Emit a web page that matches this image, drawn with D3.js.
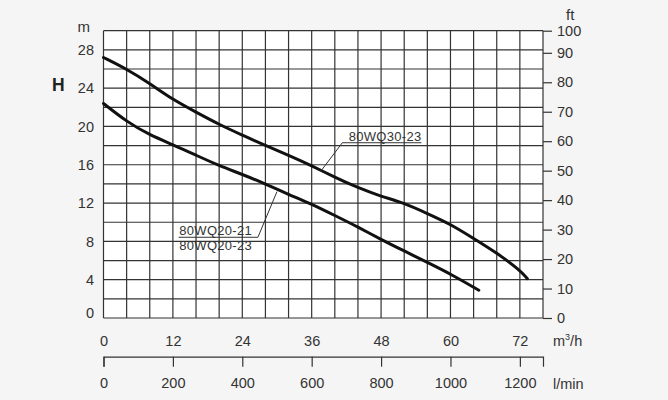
<!DOCTYPE html>
<html>
<head>
<meta charset="utf-8">
<script src="https://cdn.jsdelivr.net/npm/d3@7"></script>
<style>
  body { margin: 0; background: #f5f5f5; }
  svg { display: block; font-family: "Liberation Sans", Arial, sans-serif; }
</style>
</head>
<body>
<div id="chart"></div>
<script>
/* DATA */
// flow in m3/h, head in m
const flowUpper = [0, 4, 8, 12, 16, 20, 24, 28, 32, 36, 40, 44, 48, 52, 56, 60, 64, 68, 72, 73.3];
const headUpper = [27.2, 26.0, 24.5, 22.8, 21.5, 20.2, 19.1, 18.0, 17.0, 15.9, 14.7, 13.6, 12.7, 12.0, 10.9, 9.8, 8.3, 6.8, 5.0, 4.1];
const flowLower = [0, 4, 8, 12, 16, 20, 24, 28, 32, 36, 40, 44, 48, 52, 56, 60, 64.9];
const headLower = [22.4, 20.5, 19.1, 18.1, 17.0, 15.9, 15.0, 14.0, 12.9, 11.9, 10.7, 9.5, 8.2, 7.0, 5.8, 4.6, 2.9];

const headTicks = [0, 4, 8, 12, 16, 20, 24, 28];
const ftTicks = [0, 10, 20, 30, 40, 50, 60, 70, 80, 90, 100];
const flowTicks = [0, 12, 24, 36, 48, 60, 72];
const lpmTicks = [0, 200, 400, 600, 800, 1000, 1200];

const labelUpper = "80WQ30-23";
const labelLower = ["80WQ20-21", "80WQ20-23"];

/* CONSTANTS */
const width = 668, height = 400;
const margin = { top: 30.7, left: 103.5, right: 125, bottom: 82 };
const ink = "#333";

const svg = d3.select("#chart").append("svg")
  .attr("width", width)
  .attr("height", height);

// scales
const xScale = d3.scaleLinear().domain([0, 76]).range([margin.left, width - margin.right]);
const yScale = d3.scaleLinear().domain([0, 30]).range([height - margin.bottom, margin.top]);
// ft labels: 0..90 in ft, top edge labelled 100
const ftScale = d3.scaleLinear().domain([0, 90, 100]).range([yScale(0), yScale(90 / 3.25), yScale(30)]);
const lpmScale = d3.scaleLinear().domain([0, 76 * 1000 / 60]).range(xScale.range());

// grid
svg.append("rect")
  .attr("x", xScale(0)).attr("y", yScale(30))
  .attr("width", xScale(76) - xScale(0))
  .attr("height", yScale(0) - yScale(30))
  .attr("fill", "#fff");

svg.append("g").selectAll("line")
  .data(d3.range(0, 77, 4))
  .join("line")
  .attr("x1", d => xScale(d)).attr("x2", d => xScale(d))
  .attr("y1", yScale(0)).attr("y2", yScale(30))
  .attr("stroke", ink).attr("stroke-width", 1.2);

svg.append("g").selectAll("line")
  .data(d3.range(0, 31, 2))
  .join("line")
  .attr("x1", xScale(0)).attr("x2", xScale(76))
  .attr("y1", d => yScale(d)).attr("y2", d => yScale(d))
  .attr("stroke", ink).attr("stroke-width", 1.2);

// axes
const leftAxis = svg.append("g")
  .attr("transform", `translate(${margin.left},0)`)
  .call(d3.axisLeft(yScale).tickValues(headTicks).tickSize(0).tickPadding(9.5));
leftAxis.select(".domain").remove();

const rightAxis = svg.append("g")
  .attr("transform", `translate(${xScale(76)},0)`)
  .call(d3.axisRight(ftScale).tickValues(ftTicks).tickSize(9).tickPadding(5));
rightAxis.select(".domain").remove();
rightAxis.selectAll("line").attr("stroke", ink).attr("stroke-width", 1.2);

const bottomAxis = svg.append("g")
  .attr("transform", `translate(0,${yScale(0)})`)
  .call(d3.axisBottom(xScale).tickValues(flowTicks).tickSize(0).tickPadding(18));
bottomAxis.select(".domain").remove();

const lpmAxis = svg.append("g")
  .attr("transform", `translate(0,356.7)`)
  .call(d3.axisBottom(lpmScale).tickValues(lpmTicks).tickFormat(d3.format("d"))
    .tickSizeInner(10).tickSizeOuter(10).tickPadding(11));
lpmAxis.select(".domain").attr("stroke", ink).attr("stroke-width", 1.2);
lpmAxis.selectAll("line").attr("stroke", ink).attr("stroke-width", 1.2);

svg.selectAll(".tick text")
  .attr("font-size", 14.5)
  .attr("fill", ink)
  .attr("font-family", "'Liberation Sans', Arial, sans-serif");
leftAxis.selectAll(".tick text").filter(d => d === 0).attr("dy", "-0.02em");

// unit labels
const unit = (x, y, t, size, weight) => svg.append("text")
  .attr("x", x).attr("y", y)
  .attr("font-size", size).attr("font-weight", weight || "normal")
  .attr("fill", ink).text(t);

unit(77.5, 31.5, "m", 15);
unit(52, 90.5, "H", 17.5, "bold").attr("fill", "#222");
unit(566, 20, "ft", 15);
const m3 = unit(553, 346, "m", 14.5);
m3.append("tspan").attr("font-size", 9).attr("dy", -6).text("3");
m3.append("tspan").attr("dy", 6).text("/h");
unit(553, 388.5, "l/min", 14.5);

// curves
const line = d3.line()
  .x(d => xScale(d[0]))
  .y(d => yScale(d[1]))
  .curve(d3.curveBasis);

const series = [d3.zip(flowUpper, headUpper), d3.zip(flowLower, headLower)];
svg.selectAll(".curve")
  .data(series)
  .join("path")
  .attr("class", "curve")
  .attr("fill", "none")
  .attr("stroke", "#111")
  .attr("stroke-width", 3)
  .attr("stroke-linecap", "round")
  .attr("d", line);

// callouts
const note = svg.append("g").attr("fill", "none").attr("stroke", ink).attr("stroke-width", 1);
const tUp = svg.append("text")
  .attr("x", xScale(42.4)).attr("y", yScale(18.5))
  .attr("font-size", 13).attr("letter-spacing", 0.3).attr("fill", ink)
  .text(labelUpper);
const upEnd = tUp.node().getComputedTextLength() + xScale(42.4);
note.append("path")
  .attr("d", `M${xScale(37.6)},${yScale(15.35)}L${xScale(41.3)},${yScale(18.3)}H${upEnd}`);

svg.append("g").selectAll("text")
  .data(labelLower)
  .join("text")
  .attr("x", xScale(13.1))
  .attr("y", (d, i) => yScale(8.65 - i * 1.55))
  .attr("font-size", 13).attr("letter-spacing", 0.3).attr("fill", ink)
  .text(d => d);
note.append("path")
  .attr("d", `M${xScale(13.0)},${yScale(8.43)}H${xScale(26.7)}L${xScale(30.0)},${yScale(13.2)}`);
</script>
</body>
</html>
